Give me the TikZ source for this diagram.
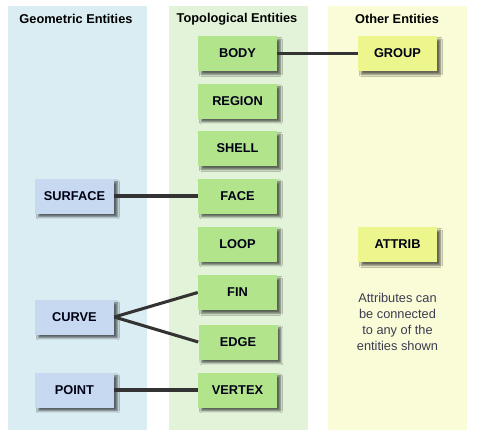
\documentclass[tikz,border=0pt]{standalone}
\usepackage{fontspec}
\setmainfont{Liberation Sans}
\usetikzlibrary{shadows.blur}
\definecolor{geoPanel}{RGB}{218,237,243}
\definecolor{topoPanel}{RGB}{227,243,217}
\definecolor{otherPanel}{RGB}{250,252,216}
\definecolor{geoBox}{RGB}{198,217,240}
\definecolor{topoBox}{RGB}{178,228,140}
\definecolor{otherBox}{RGB}{236,246,140}
\definecolor{linkGray}{RGB}{51,51,51}
\definecolor{noteText}{RGB}{60,60,80}
\begin{document}
\begin{tikzpicture}[x=0.75pt,y=-0.75pt,
  every node/.style={font=\fontsize{9.6}{11}\selectfont},
  heading/.style={font=\fontsize{9.6}{11}\selectfont\bfseries, text=black},
  entity/.style={minimum width=59.25pt, minimum height=26.25pt, inner sep=0pt,
    font=\fontsize{9.6}{11}\selectfont\bfseries, text=black!92!blue,
    blur shadow={shadow xshift=2.5pt, shadow yshift=-2.5pt, shadow opacity=60,
      shadow blur steps=4, shadow blur radius=1.5pt}},
  geo/.style={entity, fill=geoBox},
  topo/.style={entity, fill=topoBox},
  other/.style={entity, fill=otherBox},
  link/.style={draw=linkGray, line width=2.3pt}]
  \useasboundingbox (0,0) rectangle (478,439);
  \fill[white] (0,0) rectangle (478,439);

  % column backgrounds
  \fill[geoPanel] (8,6) rectangle (147,430);
  \fill[topoPanel] (169,6) rectangle (308,430);
  \fill[otherPanel] (328,6) rectangle (467,430);

  % column headings
  \node[heading] (hgeo) at (76,19) {Geometric Entities};
  \node[heading] (htopo) at (237,19) {Topological Entities};
  \node[heading] (hother) at (397,19) {Other Entities};

  % topological entities
  \node[topo] (body)   at (237.5,53.5)  {BODY};
  \node[topo] (region) at (237.5,101)   {REGION};
  \node[topo] (shell)  at (237.5,148.5) {SHELL};
  \node[topo] (face)   at (237.5,196)   {FACE};
  \node[topo] (loop)   at (237.5,244)   {LOOP};
  \node[topo] (fin)    at (237.5,292.5) {FIN};
  \node[topo] (edge)   at (238,342)     {EDGE};
  \node[topo] (vertex) at (237.5,390)   {VERTEX};

  % geometric entities
  \node[geo] (surface) at (74.5,196) {SURFACE};
  \node[geo] (curve)   at (74.5,317) {CURVE};
  \node[geo] (point)   at (74.5,390) {POINT};

  % other entities
  \node[other] (group)  at (397.5,53.5)  {GROUP};
  \node[other] (attrib) at (397.5,244.5) {ATTRIB};
  \node[align=center, text=noteText, font=\fontsize{9.6}{12}\selectfont] (note) at (397.5,322)
    {Attributes can\\be connected\\to any of the\\entities shown};

  % connections
  \draw[link] (body.east) -- (group.west);
  \draw[link] (surface.east) -- (face.west);
  \draw[link] (curve.east) -- (fin.west);
  \draw[link] (curve.east) -- (edge.west);
  \draw[link] (point.east) -- (vertex.west);
\end{tikzpicture}
\end{document}
